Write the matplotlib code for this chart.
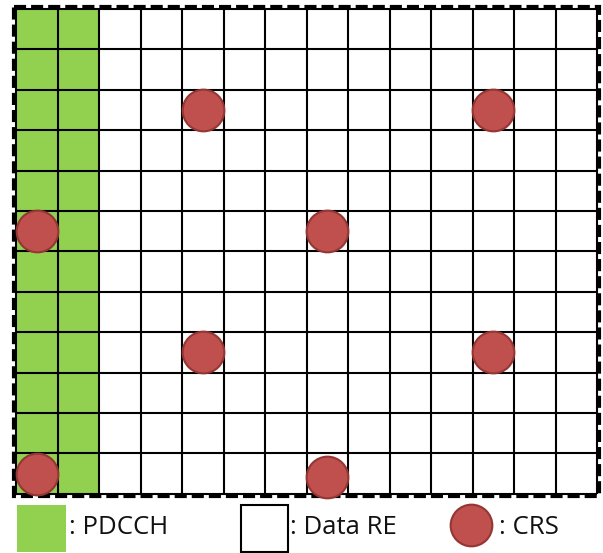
import matplotlib.pyplot as plt
from matplotlib.patches import Rectangle

# resource grid size
n_cols = 14  # OFDM symbols
n_rows = 12  # subcarriers

# control region columns
pdcch_cols = [0, 1]

# CRS resource elements (column, row), rows counted from the top
crs_cols = [4, 11, 0, 7, 4, 11, 0, 7]
crs_rows = [2, 2, 5, 5, 8, 8, 11, 11.08]

legend_labels = [": PDCCH", ": Data RE", ": CRS"]

green = "#92D050"
red = "#C0504D"
red_edge = "#943634"

fig = plt.figure(figsize=(6.03, 5.53), dpi=100)
ax = fig.add_axes([0, 0, 1, 1])

# pixel -> cell units (cell is ~41.5 x 40.4 px, grid starts at 16, 9)
cw, ch = 41.5, 40.4
x0, y0 = 16, 9
ax.set_xlim(-x0 / cw, (603 - x0) / cw)
ax.set_ylim((553 - y0) / ch, -y0 / ch)
ax.axis("off")

# PDCCH region
for c in pdcch_cols:
    ax.add_patch(Rectangle((c, 0), 1, n_rows, facecolor=green, edgecolor="none", zorder=1))

# grid lines
ax.vlines(range(n_cols + 1), 0, n_rows, color="black", lw=1.5, zorder=2)
ax.hlines(range(n_rows + 1), 0, n_cols, color="black", lw=1.5, zorder=2)

# dashed outer border
border = Rectangle((-0.04, -0.05), n_cols + 0.08, n_rows + 0.1, fill=False,
                   edgecolor="black", lw=3, zorder=3)
border.set_linestyle((0, (2.9, 1.2)))
ax.add_patch(border)

# CRS
ax.scatter([c + 0.5 for c in crs_cols], [r + 0.5 for r in crs_rows], s=900,
           color=red, edgecolors=red_edge, linewidths=1.5, zorder=4)

# legend
ly = (505 - y0) / ch
lh = 47 / ch
ax.add_patch(Rectangle(((17 - x0) / cw, ly), 49 / cw, lh, facecolor=green,
                       edgecolor="none", clip_on=False))
ax.add_patch(Rectangle(((241 - x0) / cw, ly), 47 / cw, lh, facecolor="white",
                       edgecolor="black", lw=1.5, clip_on=False))
ax.scatter([(471 - x0) / cw], [(525.5 - y0) / ch], s=900, color=red,
           edgecolors=red_edge, linewidths=1.5, clip_on=False)

ty = (528 - y0) / ch
for xp, label in zip([69, 290, 499], legend_labels):
    ax.text((xp - x0) / cw, ty, label, fontsize=18.5, family="Open Sans",
            ha="left", va="center", color="#111111")

plt.savefig("out.png", dpi=100)
